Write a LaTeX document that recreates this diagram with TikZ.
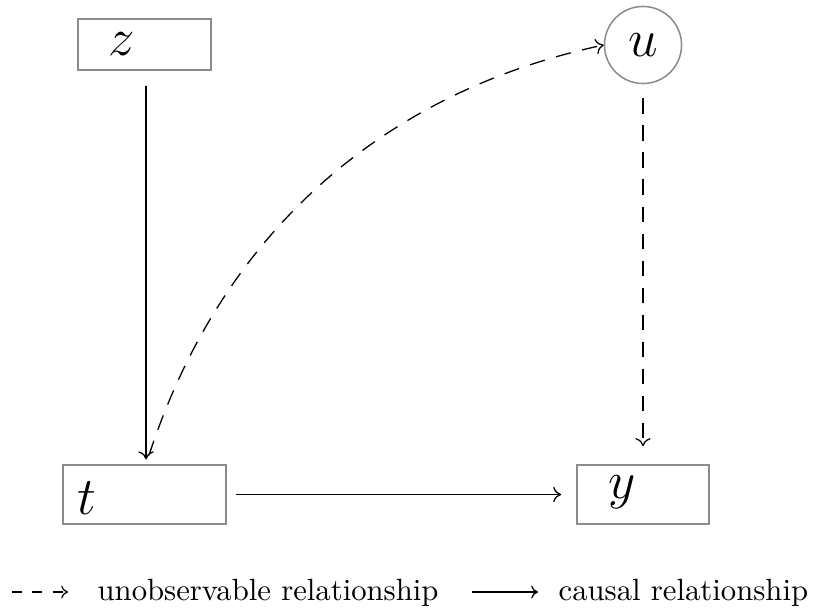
\documentclass[tikz,border=0pt]{standalone}
\usetikzlibrary{arrows.meta}
\begin{document}
\begin{tikzpicture}[x=0.3257pt,y=-0.3257pt,
  box/.style={draw=gray!90,line width=0.5pt,inner sep=0pt},
  lab/.style={inner sep=0pt,font=\LARGE},
  causal/.style={line width=0.42pt,-{To[length=2.6pt,width=5pt]}},
  unobs/.style={line width=0.42pt,dash pattern=on 5pt off 3.8pt,-{To[length=2.6pt,width=5pt]}},
  legtext/.style={inner sep=0pt,anchor=base west}]
\useasboundingbox (0,0) rectangle (813,607);
% boxes
\node[box,minimum width=43.3pt,minimum height=16.6pt] (z) at (144.5,44.5) {};
\node[box,minimum width=53.1pt,minimum height=19.2pt] (t) at (144.5,494.5) {};
\node[box,minimum width=43pt,minimum height=19.2pt] (y) at (643,494.5) {};
\node[box,circle,minimum size=25.1pt,font=\LARGE] (u) at (643,45) {$u$};
% labels
\node[lab] (zl) at (122,44) {$z$};
\node[lab] (tl) at (87,498.5) {$t$};
\node[lab] (yl) at (622,492.5) {$y$};
% connectors
\draw[causal,shorten <=4.9pt,shorten >=1.6pt] ([xshift=0.5pt]z.south) -- ([xshift=0.5pt]t.north);
\draw[unobs] ([shift={(4.5,-9)}]t.north) .. controls (220,237) and (379,93) .. (u.west);
\draw[unobs,shorten <=4.6pt,shorten >=5.9pt] (u.south) -- (y.north);
\draw[causal,shorten <=2.9pt,shorten >=4.9pt] (t.east) -- (y.west);
% legend
\coordinate (l1a) at (12,592);
\coordinate (l1b) at (68,592);
\coordinate (l2a) at (472,592);
\coordinate (l2b) at (538,592);
\draw[line width=0.42pt,dash pattern=on 3.3pt off 3.3pt,-{To[length=2.2pt,width=4.2pt]}] (l1a) -- (l1b);
\draw[line width=0.42pt,-{To[length=2.2pt,width=4.2pt]}] (l2a) -- (l2b);
\node[legtext] (leg1) at (97,600) {unobservable relationship};
\node[legtext] (leg2) at (558,600) {causal relationship};
\end{tikzpicture}
\end{document}
